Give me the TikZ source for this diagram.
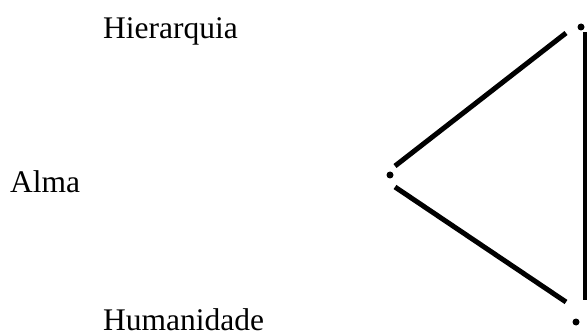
\documentclass[tikz,border=0pt]{standalone}
\usepackage{fontspec}
\setmainfont{Liberation Serif}
\begin{document}
\begin{tikzpicture}[x=1pt,y=-1pt,
  dotnode/.style={circle,fill=black,inner sep=0pt,minimum size=7pt},
  lbl/.style={anchor=base west,inner sep=0pt,font=\fontsize{31.5}{38}\selectfont},
  edge/.style={line width=5pt}]
\useasboundingbox (0,0) rectangle (587,334);
\node[lbl] (hier) at (103,38.5) {Hierarquia};
\node[lbl] (alma) at (10,192.5) {Alma};
\node[lbl] (hum) at (103,330) {Humanidade};
\node[dotnode] (dl) at (390,175) {};
\node[dotnode] (dt) at (581,27) {};
\node[dotnode] (db) at (576,322) {};
\coordinate (a1) at (395,166);
\coordinate (a2) at (566,33);
\coordinate (b1) at (395,187);
\coordinate (b2) at (566,302);
\coordinate (c1) at (585,32);
\coordinate (c2) at (585,300);
\draw[edge] (a1) -- (a2);
\draw[edge] (b1) -- (b2);
\draw[edge] (c1) -- (c2);
\end{tikzpicture}
\end{document}
